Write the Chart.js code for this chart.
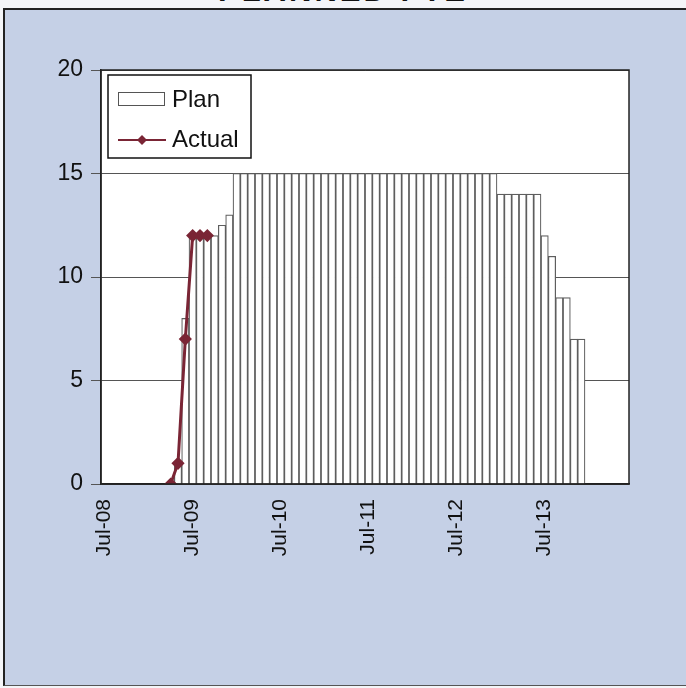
<!DOCTYPE html>
<html lang="en">
<head>
<meta charset="UTF-8">
<title>Plan vs Actual</title>
<script src="https://cdn.jsdelivr.net/npm/chart.js"></script>
<style>
    html, body { margin: 0; padding: 0; }
    body { width: 686px; height: 688px; overflow: hidden; background: #f4f5f8; position: relative; font-family: Arial, "Liberation Sans", sans-serif; }
    .frame { position: absolute; left: 3px; top: 8px; width: 683px; height: 678px; background: #c5d0e6; border-left: 2px solid #222; border-top: 2px solid #222; border-bottom: 1px solid #555; box-sizing: border-box; }
    .title { position: absolute; left: 0; width: 686px; top: -27px; text-align: center; font: bold 31px Arial, "Liberation Sans", sans-serif; letter-spacing: 3px; color: #111; }
    #chart { position: absolute; left: 0; top: 0; }
</style>
</head>
<body>
<div class="title">PLANNED FTE</div>
<div class="frame"></div>
<canvas id="chart" width="686" height="688"></canvas>

<script>
// 72 months, Jul-08 .. Jun-14
const months = ['Jan','Feb','Mar','Apr','May','Jun','Jul','Aug','Sep','Oct','Nov','Dec'];
const labels = [];
for (let i = 0; i < 72; i++) {
    const m = (6 + i) % 12;
    const y = 8 + Math.floor((6 + i) / 12);
    labels.push(months[m] + '-' + String(y).padStart(2, '0'));
}

// Plan values (monthly bars), null = no bar
const plan = [
    null, null, null, null, null, null, null, null, null, null, 1, 8,        // Jul-08 .. Jun-09
    12, 12, 12, 12, 12.5, 13, 15, 15, 15, 15, 15, 15,                        // Jul-09 .. Jun-10
    15, 15, 15, 15, 15, 15, 15, 15, 15, 15, 15, 15,                          // Jul-10 .. Jun-11
    15, 15, 15, 15, 15, 15, 15, 15, 15, 15, 15, 15,                          // Jul-11 .. Jun-12
    15, 15, 15, 15, 15, 15, 14, 14, 14, 14, 14, 14,                          // Jul-12 .. Jun-13
    12, 11, 9, 9, 7, 7, null, null, null, null, null, null                   // Jul-13 .. Jun-14
];

// Actual values
const actual = [
    null, null, null, null, null, null, null, null, null, 0, 1, 7,
    12, 12, 12
];

const yTicks = [0, 5, 10, 15, 20];

const plotBox = {
    id: 'plotBox',
    beforeDraw(chart) {
        const a = chart.chartArea, ctx = chart.ctx;
        ctx.save();
        ctx.fillStyle = '#ffffff';
        ctx.fillRect(a.left, a.top, a.right - a.left, a.bottom - a.top);
        ctx.restore();
    },
    afterDraw(chart) {
        const a = chart.chartArea, ctx = chart.ctx;
        ctx.save();
        ctx.strokeStyle = '#222';
        ctx.lineWidth = 1.5;
        ctx.strokeRect(a.left, a.top, a.right - a.left, a.bottom - a.top);

        // legend box
        const x = a.left + 7, y = a.top + 5;
        ctx.fillStyle = '#ffffff';
        ctx.fillRect(x, y, 143, 83);
        ctx.strokeStyle = '#111';
        ctx.lineWidth = 1.5;
        ctx.strokeRect(x, y, 143, 83);

        ctx.lineWidth = 1;
        ctx.strokeStyle = '#555';
        ctx.strokeRect(x + 10.5, y + 17.5, 46, 13);

        ctx.strokeStyle = '#7a2535';
        ctx.lineWidth = 2;
        ctx.beginPath();
        ctx.moveTo(x + 10, y + 65);
        ctx.lineTo(x + 58, y + 65);
        ctx.stroke();
        ctx.fillStyle = '#7a2535';
        ctx.beginPath();
        ctx.moveTo(x + 34, y + 60);
        ctx.lineTo(x + 39, y + 65);
        ctx.lineTo(x + 34, y + 70);
        ctx.lineTo(x + 29, y + 65);
        ctx.closePath();
        ctx.fill();

        ctx.fillStyle = '#111';
        ctx.font = '24px Arial, "Liberation Sans", sans-serif';
        ctx.textBaseline = 'alphabetic';
        ctx.fillText('Plan', x + 64, y + 32);
        ctx.fillText('Actual', x + 64, y + 72);
        ctx.restore();
    }
};

new Chart(document.getElementById('chart'), {
    type: 'bar',
    data: {
        labels: labels,
        datasets: [{
            type: 'line',
            label: 'Actual',
            data: actual,
            borderColor: '#7a2535',
            backgroundColor: '#7a2535',
            borderWidth: 3,
            pointStyle: 'rectRot',
            pointRadius: 4.5,
            pointBackgroundColor: '#7a2535',
            pointBorderColor: '#7a2535',
            tension: 0,
            order: 0
        }, {
            label: 'Plan',
            data: plan,
            backgroundColor: '#ffffff',
            borderColor: '#5e5e5e',
            borderWidth: 1.2,
            categoryPercentage: 1,
            barPercentage: 1,
            order: 1
        }]
    },
    options: {
        responsive: false,
        animation: false,
        layout: { padding: { top: 70, right: 57, left: 0, bottom: 124 } },
        plugins: { legend: { display: false }, tooltip: { enabled: false } },
        scales: {
            x: {
                grid: { display: false, drawTicks: false },
                border: { display: true, color: '#222', width: 1.5 },
                afterFit(scale) { scale.height = 80; },
                ticks: {
                    autoSkip: false,
                    minRotation: 90,
                    maxRotation: 90,
                    padding: 15,
                    color: '#111',
                    font: { family: 'Arial, "Liberation Sans", sans-serif', size: 21 },
                    callback(val, i) { return i % 12 === 0 ? labels[i] : ''; }
                }
            },
            y: {
                min: 0,
                max: 20,
                afterFit(scale) { scale.width = 101; },
                afterBuildTicks(scale) { scale.ticks = yTicks.map(v => ({ value: v })); },
                grid: { color: '#555', lineWidth: 1, tickLength: 10 },
                border: { display: true, color: '#222', width: 1.5 },
                ticks: {
                    padding: 8,
                    color: '#111',
                    font: { family: 'Arial, "Liberation Sans", sans-serif', size: 23 }
                }
            }
        }
    },
    plugins: [plotBox]
});
</script>
</body>
</html>
